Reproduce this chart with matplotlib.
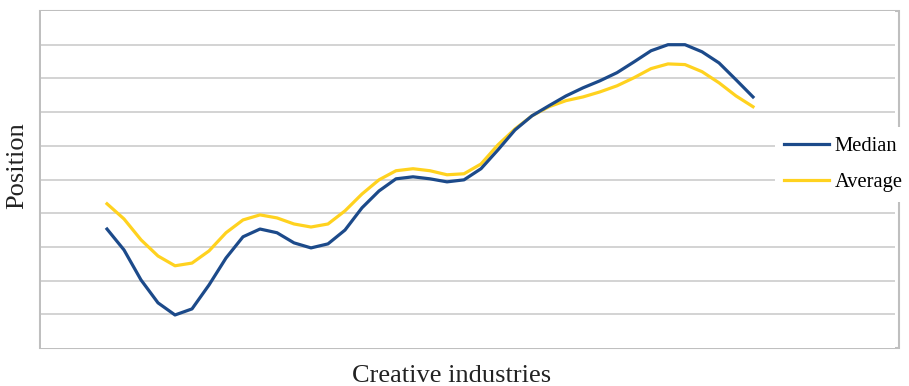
import matplotlib
matplotlib.use("Agg")
import matplotlib.pyplot as plt
from matplotlib.patches import Rectangle
import numpy as np

# Data (39 creative industries, no tick labels shown)
median = [3.53, 2.91, 2.02, 1.34, 0.98, 1.16, 1.87, 2.67, 3.30, 3.53,
          3.42, 3.12, 2.97, 3.09, 3.50, 4.16, 4.66, 5.02, 5.08, 5.02,
          4.93, 4.99, 5.32, 5.88, 6.47, 6.89, 7.19, 7.48, 7.72, 7.93,
          8.17, 8.49, 8.82, 9.00, 9.00, 8.79, 8.46, 7.96, 7.45]
average = [4.28, 3.83, 3.21, 2.73, 2.44, 2.52, 2.88, 3.42, 3.80, 3.95,
           3.86, 3.68, 3.59, 3.68, 4.07, 4.57, 4.99, 5.26, 5.32, 5.26,
           5.14, 5.17, 5.46, 6.03, 6.50, 6.89, 7.16, 7.34, 7.45, 7.60,
           7.78, 8.02, 8.29, 8.43, 8.41, 8.20, 7.87, 7.48, 7.16]
series_names = ["Median", "Average"]
x_title = "Creative industries"
y_title = "Position"

plt.rcParams['font.family'] = ['Liberation Serif', 'DejaVu Serif']

W, H = 909, 386
fig = plt.figure(figsize=(W / 100, H / 100), dpi=100)

# plot area (pixel coords)
L, R, T, B = 41, 895, 11, 348
ax = fig.add_axes([L / W, 1 - B / H, (R - L) / W, (B - T) / H])

x = np.arange(len(median))
ax.plot(x, median, color='#1C4A8A', lw=2.3, solid_joinstyle='round', zorder=3, label=series_names[0])
ax.plot(x, average, color='#FFD21F', lw=2.3, solid_joinstyle='round', zorder=2, label=series_names[1])

ax.set_ylim(0, 10)
xl = -(107 - L) / 17
xr = (R - 107) / 17
ax.set_xlim(xl, xr)
ax.set_yticks(np.arange(1, 10))
ax.set_xticks([])
ax.tick_params(left=False, labelleft=False)
ax.grid(axis='y', color='#D0D0D0', lw=1.3)
ax.set_axisbelow(True)
for s in ax.spines.values():
    s.set_visible(False)

# outer frame
fig.patches.append(Rectangle((40 / W, 1 - 348 / H), (899 - 40) / W, (348 - 11) / H,
                             transform=fig.transFigure, fill=False,
                             edgecolor='#BFBFBF', lw=1.5, zorder=-1))

leg = fig.legend(loc='center left', bbox_to_anchor=(775 / W, 1 - 164.5 / H),
                 frameon=True, fontsize=14.8, handlelength=2.2, handletextpad=0.25,
                 labelspacing=0.82, borderpad=0.45, borderaxespad=0)
leg.get_frame().set_facecolor('white')
leg.get_frame().set_edgecolor('none')
leg.get_frame().set_alpha(1)
for line in leg.get_lines():
    line.set_linewidth(2.3)

fig.text(452 / W, 1 - 382 / H, x_title, ha='center', va='baseline', fontsize=19, color='#222222')
fig.text(17 / W, 1 - 166 / H, y_title, ha='center', va='center', rotation=90, fontsize=19, color='#222222')

fig.savefig('out.png', dpi=100)
